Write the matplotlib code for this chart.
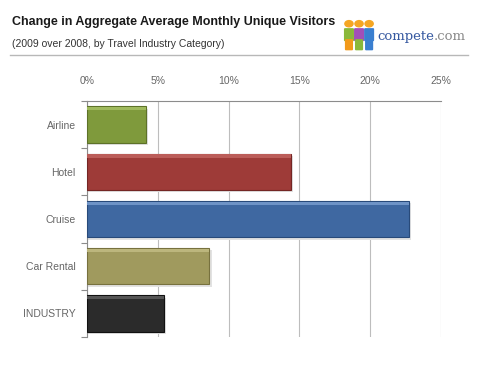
import matplotlib
matplotlib.use("Agg")
import matplotlib.pyplot as plt
from matplotlib.patches import Circle, FancyBboxPatch

categories = ["Airline", "Hotel", "Cruise", "Car Rental", "INDUSTRY"]
values = [4.15, 14.4, 22.75, 8.65, 5.45]
colors = ["#7f9a3c", "#9e3b38", "#3f68a1", "#a09a5e", "#2b2b2b"]
edge_colors = ["#5d7228", "#742624", "#284a7a", "#77713e", "#111111"]
light_colors = ["#9fb95c", "#bb5d59", "#6e93c6", "#bcb67d", "#555555"]
xticks = [0, 5, 10, 15, 20, 25]
xtick_labels = ["0%", "5%", "10%", "15%", "20%", "25%"]

plt.rcParams["font.family"] = ["Liberation Sans", "DejaVu Sans"]

fig = plt.figure(figsize=(4.8, 3.65), dpi=100)
ax = fig.add_axes([0.181, 0.0767, 0.738, 0.6466])

y = list(range(len(categories)))
h = 0.77
# soft shadow
ax.barh([v + 0.05 for v in y], [v + 0.15 for v in values], height=h, color="#e2e2e2", zorder=2)
ax.barh(y, values, height=h, color=colors, edgecolor=edge_colors, linewidth=0.8, zorder=3)
# top bevel highlight
ax.barh([v - h / 2 + 0.05 for v in y], values, height=0.07, color=light_colors, zorder=4, linewidth=0)

ax.set_xlim(0, 25)
ax.set_ylim(len(categories) - 0.5, -0.5)
ax.set_yticks(y)
ax.set_yticklabels(categories)
ax.set_yticks([i - 0.5 for i in range(len(categories) + 1)], minor=True)
ax.set_xticks(xticks)
ax.set_xticklabels(xtick_labels)
ax.xaxis.tick_top()
ax.tick_params(axis="x", length=0, pad=11, labelsize=7.5, colors="#666666")
ax.tick_params(axis="y", which="major", length=0, pad=8, labelsize=7.5, colors="#666666")
ax.tick_params(axis="y", which="minor", length=4, width=0.8, color="#8c8c8c", direction="out")
ax.grid(axis="x", color="#bdbdbd", linewidth=0.8, zorder=0)
ax.set_axisbelow(True)
for s in ["right", "bottom"]:
    ax.spines[s].set_visible(False)
for s in ["left", "top"]:
    ax.spines[s].set_color("#8c8c8c")
    ax.spines[s].set_linewidth(0.8)

fig.text(0.025, 0.94, "Change in Aggregate Average Monthly Unique Visitors",
         fontsize=9, fontweight="bold", color="#1a1a1a", va="center")
fig.text(0.025, 0.88, "(2009 over 2008, by Travel Industry Category)",
         fontsize=7.5, color="#333333", va="center")
fig.add_artist(plt.Line2D([0.02, 0.975], [0.85, 0.85], color="#b8b8b8", linewidth=1))

# logo figures
for cx, head, body, legs in [(0.727, "#f5a623", "#8ab83a", "#f29a1a"),
                             (0.748, "#f5a623", "#a24fb8", "#8ab83a"),
                             (0.769, "#f5a623", "#3a7fd0", "#3a7fd0")]:
    fig.add_artist(Circle((cx, 0.935), 0.0085, transform=fig.transFigure, color=head))
    fig.add_artist(FancyBboxPatch((cx - 0.008, 0.89), 0.016, 0.03, boxstyle="round,pad=0.001",
                                  transform=fig.transFigure, color=body))
    fig.add_artist(FancyBboxPatch((cx - 0.006, 0.865), 0.012, 0.025, boxstyle="round,pad=0.001",
                                  transform=fig.transFigure, color=legs))
t1 = fig.text(0.786, 0.9, "compete", fontsize=9.5, color="#3558a0", family="DejaVu Serif", va="center")
fig.canvas.draw()
bb = t1.get_window_extent().transformed(fig.transFigure.inverted())
fig.text(bb.x1, 0.9, ".com", fontsize=9.5, color="#8a8a8a", family="DejaVu Serif", va="center")

fig.savefig("out.png", dpi=100, facecolor="white")
